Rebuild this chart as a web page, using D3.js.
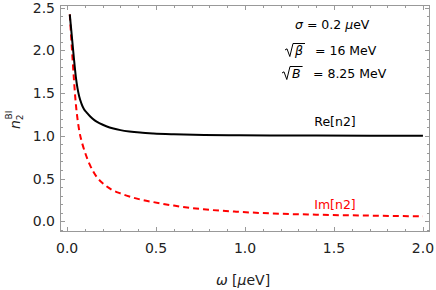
<!DOCTYPE html>
<html>
<head>
<meta charset="utf-8">
<script src="https://cdn.jsdelivr.net/npm/d3@7"></script>
<style>
  body { margin: 0; background: #fff; }
  svg text { font-family: "DejaVu Sans", sans-serif; }
</style>
</head>
<body>
<div id="chart"></div>
<script>
// values
let omegaRe = [0.015, 0.02, 0.028, 0.038, 0.049, 0.058, 0.068, 0.08, 0.095, 0.11, 0.13, 0.155, 0.184, 0.22, 0.26, 0.3, 0.35, 0.41, 0.485, 0.6, 0.77, 0.95, 1.14, 1.4, 1.7, 2.0];
let reValues = [2.42, 2.31, 2.13, 1.91, 1.69, 1.56, 1.46, 1.38, 1.31, 1.272, 1.225, 1.18, 1.145, 1.112, 1.085, 1.066, 1.05, 1.037, 1.027, 1.018, 1.01, 1.006, 1.003, 1.002, 1.001, 1.0];

let omegaIm = [0.015, 0.022, 0.03, 0.038, 0.045, 0.052, 0.06, 0.07, 0.085, 0.1, 0.128, 0.166, 0.203, 0.25, 0.3, 0.35, 0.41, 0.485, 0.6, 0.767, 0.95, 1.14, 1.4, 1.7, 2.0];
let imValues = [2.42, 2.18, 1.92, 1.67, 1.47, 1.31, 1.17, 1.04, 0.91, 0.81, 0.66, 0.52, 0.44, 0.37, 0.325, 0.29, 0.255, 0.224, 0.183, 0.14, 0.112, 0.092, 0.077, 0.066, 0.058];

let xTicks = [0.0, 0.5, 1.0, 1.5, 2.0];
let yTicks = [0.0, 0.5, 1.0, 1.5, 2.0, 2.5];

let width = 436;
let height = 290;
let frameColor = "#999";

let xScale = d3.scaleLinear().domain([-0.04, 2.034]).range([60, 429]);
let yScale = d3.scaleLinear().domain([-0.114, 2.53]).range([231, 5]);

let svg = d3.select("#chart")
  .append("svg")
  .attr("width", width)
  .attr("height", height);

/* frame */
svg.append("rect")
  .attr("x", xScale.range()[0] + 0.5)
  .attr("y", yScale.range()[1] + 0.5)
  .attr("width", xScale.range()[1] - xScale.range()[0])
  .attr("height", yScale.range()[0] - yScale.range()[1])
  .attr("fill", "none")
  .attr("stroke", frameColor);

/* minor ticks every 0.1, major at labelled values */
let xMinor = d3.range(0, 21).map(i => i / 10);
let yMinor = d3.range(-1, 26).map(i => i / 10);
let isMajor = v => Math.abs(v * 2 - Math.round(v * 2)) < 1e-6;

let ticks = svg.append("g").attr("stroke", frameColor).attr("stroke-width", 1);
let x0 = xScale.range()[0] + 0.5, x1 = xScale.range()[1] + 0.5;
let yb = yScale.range()[0] + 0.5, yt = yScale.range()[1] + 0.5;

xMinor.forEach(v => {
  let len = isMajor(v) ? 4.5 : 2.5;
  let px = Math.round(xScale(v)) + 0.5;
  ticks.append("line").attr("x1", px).attr("x2", px).attr("y1", yb).attr("y2", yb - len);
  ticks.append("line").attr("x1", px).attr("x2", px).attr("y1", yt).attr("y2", yt + len);
});
yMinor.forEach(v => {
  let len = isMajor(v) ? 4.5 : 2.5;
  let py = Math.round(yScale(v)) + 0.5;
  ticks.append("line").attr("y1", py).attr("y2", py).attr("x1", x0).attr("x2", x0 + len);
  ticks.append("line").attr("y1", py).attr("y2", py).attr("x1", x1).attr("x2", x1 - len);
});

/* tick labels */
svg.append("g").selectAll("text")
  .data(xTicks)
  .enter()
  .append("text")
  .attr("x", d => xScale(d))
  .attr("y", 253)
  .attr("text-anchor", "middle")
  .attr("font-size", 14)
  .attr("fill", "#222")
  .text(d => d.toFixed(1));

svg.append("g").selectAll("text")
  .data(yTicks)
  .enter()
  .append("text")
  .attr("x", 55)
  .attr("y", d => yScale(d) + 5)
  .attr("text-anchor", "end")
  .attr("font-size", 14)
  .attr("fill", "#222")
  .text(d => d.toFixed(1));

/* curves */
let line = d3.line()
  .x(d => xScale(d[0]))
  .y(d => yScale(d[1]))
  .curve(d3.curveMonotoneX);

let reData = omegaRe.map((w, i) => [w, reValues[i]]);
let imData = omegaIm.map((w, i) => [w, imValues[i]]);

svg.append("path")
  .attr("d", line(imData))
  .attr("fill", "none")
  .attr("stroke", "#ff0000")
  .attr("stroke-width", 2)
  .attr("stroke-dasharray", "6,4");

svg.append("path")
  .attr("d", line(reData))
  .attr("fill", "none")
  .attr("stroke", "#000")
  .attr("stroke-width", 2);

/* curve labels */
svg.append("text")
  .attr("x", 335).attr("y", 126)
  .attr("text-anchor", "middle")
  .attr("font-size", 12.5)
  .attr("fill", "#000")
  .text("Re[n2]");

svg.append("text")
  .attr("x", 335).attr("y", 209)
  .attr("text-anchor", "middle")
  .attr("font-size", 12.5)
  .attr("fill", "#ff0000")
  .text("Im[n2]");

/* parameter annotations */
let fs = 12.5;
let t1 = svg.append("text").attr("x", 295).attr("y", 29).attr("font-size", fs);
t1.append("tspan").attr("font-style", "italic").text("σ");
t1.append("tspan").text(" = 0.2 ");
t1.append("tspan").attr("font-style", "italic").text("μ");
t1.append("tspan").text("eV");

// radical drawn as a path, symbol as italic text under the bar
function sqrtLabel(x, y, symbol, rest, restX) {
  let s = svg.append("text").attr("x", x + 10).attr("y", y)
    .attr("font-size", fs).attr("font-style", "italic").text(symbol);
  let w = s.node().getComputedTextLength();
  let top = y - 11.5;
  svg.append("path")
    .attr("d", `M${x},${y - 5} L${x + 2},${y - 6.2} L${x + 4.8},${y + 1.5} L${x + 8},${top} H${x + 10 + w + 2}`)
    .attr("fill", "none")
    .attr("stroke", "#000")
    .attr("stroke-width", 1)
    .attr("stroke-linejoin", "miter");
  svg.append("text").attr("x", restX).attr("y", y).attr("font-size", fs).text(rest);
}
sqrtLabel(285, 55, "β", "= 16 MeV", 315);
sqrtLabel(282, 78, "B", "= 8.25 MeV", 313);

/* axis titles */
let xl = svg.append("text")
  .attr("x", 243).attr("y", 285)
  .attr("text-anchor", "middle")
  .attr("font-size", 14)
  .attr("fill", "#222");
xl.append("tspan").attr("font-style", "italic").text("ω");
xl.append("tspan").text(" [");
xl.append("tspan").attr("font-style", "italic").text("μ");
xl.append("tspan").text("eV]");

let yl = svg.append("text")
  .attr("transform", "translate(20,129) rotate(-90)")
  .attr("font-size", 14)
  .attr("fill", "#222");
yl.append("tspan").attr("font-style", "italic").text("n");
yl.append("tspan").attr("font-size", 9).attr("dy", 3).text("2");
yl.append("tspan").attr("font-size", 9).attr("dx", -5).attr("dy", -11).text("BI");
</script>
</body>
</html>
